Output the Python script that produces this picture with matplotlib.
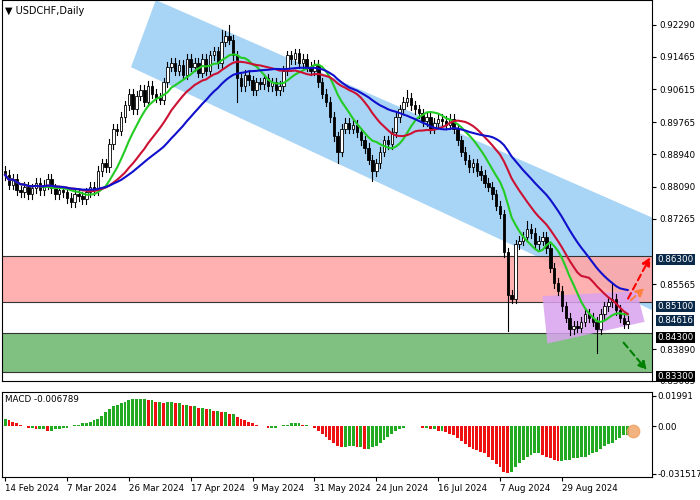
import matplotlib
matplotlib.use("Agg")
import matplotlib.pyplot as plt
import numpy as np
import pandas as pd
from matplotlib.patches import Polygon, FancyArrowPatch

closes = [.8840,.8815,.8830,.8800,.8795,.8810,.8790,.8805,.8820,.8800,
 .8815,.8830,.8805,.8790,.8800,.8795,.8780,.8770,.8790,.8785,
 .8778,.8795,.8810,.8800,.8850,.8870,.8860,.8920,.8960,.8955,
 .8990,.9020,.9050,.9010,.9045,.9060,.9030,.9070,.9050,.9040,
 .9035,.9080,.9120,.9130,.9110,.9125,.9100,.9140,.9120,.9130,
 .9105,.9140,.9110,.9150,.9160,.9130,.9185,.9200,.9190,.9150,
 .9090,.9070,.9100,.9085,.9060,.9080,.9075,.9090,.9070,.9080,
 .9060,.9070,.9110,.9150,.9140,.9155,.9130,.9140,.9120,.9110,
 .9125,.9080,.9050,.9030,.8990,.8940,.8900,.8960,.8975,.8960,
 .8970,.8950,.8930,.8910,.8880,.8850,.8870,.8900,.8930,.8920,
 .8950,.8990,.9010,.9030,.9040,.9020,.9010,.9000,.8980,.8990,
 .8960,.8975,.8985,.8980,.8970,.8985,.8960,.8930,.8900,.8880,
 .8860,.8870,.8850,.8840,.8820,.8810,.8790,.8760,.8740,.8640,
 .8530,.8520,.8660,.8670,.8680,.8700,.8690,.8660,.8670,.8680,
 .8650,.8600,.8560,.8540,.8500,.8470,.8440,.8450,.8445,.8460,
 .8480,.8470,.8460,.8440,.8480,.8500,.8510,.8520,.8490,.8470,
 .8455,.8462]
first_open = 0.8850
big_highs = {58: 0.9229, 56: 0.9215, 75: 0.9165, 104: 0.9060, 129: 0.8750, 135: 0.8720, 157: 0.8560}
big_lows = {130: 0.8437, 153: 0.8380, 60: 0.9030, 86: 0.8870, 95: 0.8825, 146: 0.8425}
macd = [5,4,3,2,1,0,-1,-1,-2,-2,-2,-3,-3,-2,-2,-1,-1,0,1,1,
 2,2,3,4,5,7,9,11,13,14,15,16,17,18,18,18,18,17,17,16,
 16,15,16,16,15,15,14,14,13,13,12,12,11,11,10,10,9,9,8,8,
 6,5,4,3,2,1,0,0,-1,-1,-1,0,1,1,2,2,2,1,1,0,
 -1,-3,-5,-7,-9,-11,-13,-14,-14,-13,-13,-14,-14,-15,-15,-14,-13,-11,-9,-7,
 -5,-3,-2,-1,0,0,0,0,-1,-1,-2,-2,-3,-3,-4,-5,-6,-8,-10,-12,
 -14,-15,-16,-17,-18,-20,-22,-25,-27,-30,-31,-30,-27,-24,-22,-20,-19,-18,-18,-19,
 -20,-21,-22,-23,-23,-22,-22,-21,-21,-20,-20,-19,-18,-17,-15,-13,-12,-11,-9,-8,-6,-6]
date_labels = ["14 Feb 2024","7 Mar 2024","26 Mar 2024","17 Apr 2024","9 May 2024",
               "31 May 2024","24 Jun 2024","16 Jul 2024","7 Aug 2024","29 Aug 2024"]
price_ticks = [0.92290,0.91465,0.90615,0.89765,0.88940,0.88090,0.87265,0.85565,0.83890,0.83065]
levels = [0.86300, 0.85100, 0.84300, 0.83300]
last_price = 0.84616
FS = 6.3

n = len(closes)
opens = [first_open] + closes[:-1]
highs = [big_highs.get(i, max(o, c) + 0.0012) for i, (o, c) in enumerate(zip(opens, closes))]
lows = [big_lows.get(i, min(o, c) - 0.0012) for i, (o, c) in enumerate(zip(opens, closes))]

fig = plt.figure(figsize=(7, 5), dpi=100)
ax = fig.add_axes([2/700, 119/500, 650/700, 381/500])
ax2 = fig.add_axes([2/700, 23/500, 650/700, 85/500])
xmax = 167.3
ymin, ymax = 0.8319, 0.9293
ax.set_xlim(-0.8, xmax); ax.set_ylim(ymin, ymax)

def px2(xp, yp):
    return ((xp - 3) / 3.9, 0.9229 - (yp - 25) / 3913)

chan = [px2(155, 0), px2(700, 240), px2(700, 335), px2(130, 68)]
ax.add_patch(Polygon(chan, closed=True, color="#a8d4f5", zorder=0, lw=0))
ax.axhspan(levels[1], levels[0], color="#ffa8a8", alpha=0.9, zorder=1, lw=0)
ax.axhspan(levels[3], levels[2], color="#80c080", zorder=1, lw=0)
for lv in levels:
    ax.axhline(lv, color="#333333", lw=0.8, zorder=2)
ax.add_patch(Polygon([px2(545, 300), px2(640, 295), px2(648, 326), px2(550, 348)],
                     closed=True, color="#d9a3f0", alpha=0.85, zorder=2, lw=0))

for i in range(n):
    o, c, h, l = opens[i], closes[i], highs[i], lows[i]
    ax.plot([i, i], [l, h], color="black", lw=0.8, zorder=4)
    up = c >= o
    ax.bar(i, max(abs(c - o), 0.0002), bottom=min(o, c), width=0.65,
           color="white" if up else "black", edgecolor="black", lw=0.6, zorder=5)

s = pd.Series(closes)
ax.plot(s.rolling(10, min_periods=1).mean(), color="#22cc22", lw=1.5, zorder=6)
ax.plot(s.rolling(20, min_periods=1).mean(), color="#cc1133", lw=1.5, zorder=6)
ax.plot(s.rolling(30, min_periods=1).mean(), color="#1010cc", lw=1.5, zorder=6)

for (a, b, col) in [((630, 305), (655, 258), "red"), ((632, 306), (650, 290), "#ff8040"),
                    ((625, 345), (652, 377), "green")]:
    ax.add_patch(FancyArrowPatch(px2(*a), px2(*b), arrowstyle="-|>", mutation_scale=12,
                 color=col, lw=1.5, ls=(0, (3, 2)), zorder=7))

ax.text(0.005, 0.985, "\u25bc USDCHF,Daily", transform=ax.transAxes, fontsize=7, va="top")

ax.yaxis.tick_right()
ax.set_yticks(price_ticks)
ax.set_yticklabels([f"{t:.5f}" for t in price_ticks], fontsize=FS)
ax.tick_params(axis="y", length=3, pad=2)
ax.set_xticks([])
box_cols = ["#0b2a4a", "#0b2a4a", "black", "black"]
for lv, col in zip(levels, box_cols):
    ax.text(1.008, (lv - ymin) / (ymax - ymin), f"{lv:.5f}", transform=ax.transAxes,
            fontsize=FS, color="white", va="center", ha="left",
            bbox=dict(boxstyle="square,pad=0.12", fc=col, ec="none"))
ax.text(1.008, (last_price - ymin) / (ymax - ymin) + 0.012, f"{last_price:.5f}", transform=ax.transAxes,
        fontsize=FS, color="white", va="center", ha="left",
        bbox=dict(boxstyle="square,pad=0.12", fc="#0b2a4a", ec="none"))

m = np.array(macd) / 1000.0
cols = ["#22aa22" if i == 0 or m[i] >= m[i-1] else "#ee1111" for i in range(len(m))]
ax2.bar(range(len(m)), m, width=0.75, color=cols)
ax2.scatter([len(m) - 1 + 1.5], [m[-1] / 2], s=80, color="#f0a060", alpha=0.8, zorder=5)
ax2.set_xlim(-0.8, xmax); ax2.set_ylim(-0.0335, 0.0225)
ax2.yaxis.tick_right()
ax2.set_yticks([0.01991, 0.0, -0.031517])
ax2.set_yticklabels(["0.01991", "0.00", "-0.031517"], fontsize=FS)
ax2.tick_params(axis="y", length=3, pad=1)
ax2.text(0.005, 0.97, "MACD -0.006789", transform=ax2.transAxes, fontsize=FS, va="top")
ax2.set_xticks([16 * k for k in range(len(date_labels))])
ax2.set_xticklabels(date_labels, fontsize=FS, ha="left")
ax2.tick_params(axis="x", length=3, pad=2)

fig.savefig("out.png", dpi=100)
